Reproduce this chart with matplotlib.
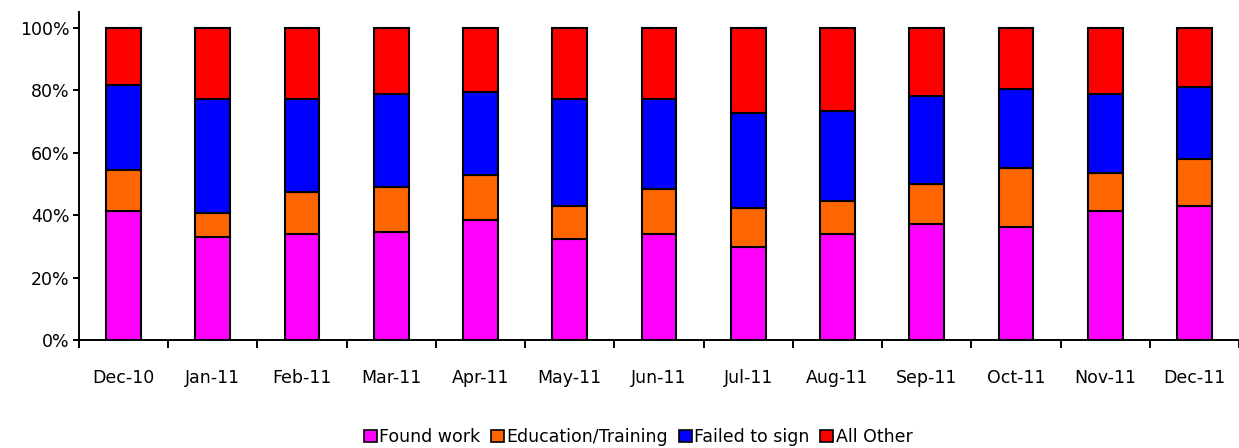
import matplotlib
matplotlib.use("Agg")
import matplotlib.pyplot as plt
import numpy as np
from matplotlib.ticker import FuncFormatter, FixedLocator
from matplotlib.patches import Patch

categories = ["Dec-10", "Jan-11", "Feb-11", "Mar-11", "Apr-11", "May-11", "Jun-11",
              "Jul-11", "Aug-11", "Sep-11", "Oct-11", "Nov-11", "Dec-11"]
found_work = [41.4, 33.1, 33.9, 34.5, 38.5, 32.4, 33.9, 29.9, 33.9, 37.0, 36.1, 41.4, 43.0]
education = [12.9, 7.5, 13.6, 14.4, 14.4, 10.6, 14.4, 12.2, 10.7, 12.9, 18.9, 12.2, 15.1]
failed_sign = [27.4, 36.5, 29.6, 29.7, 26.6, 34.1, 28.8, 30.5, 28.8, 28.1, 25.3, 25.0, 22.9]
all_other = [18.3, 22.9, 22.9, 21.4, 20.5, 22.9, 22.9, 27.4, 26.6, 22.0, 19.7, 21.4, 19.0]

series = [("Found work", found_work, "#FF00FF"),
          ("Education/Training", education, "#FF6600"),
          ("Failed to sign", failed_sign, "#0000FF"),
          ("All Other", all_other, "#FF0000")]

plt.rcParams['font.family'] = ['DejaVu Sans']
fig = plt.figure(figsize=(12.39, 4.48), dpi=100)
ax = fig.add_axes([79/1239, 1 - 340/448, 1160/1239, (340 - 12)/448])

x = np.arange(len(categories))
bottom = np.zeros(len(categories))
for name, vals, col in series:
    v = np.array(vals)
    ax.bar(x, v, 0.39, bottom=bottom, color=col, edgecolor="black", linewidth=1.5, label=name, zorder=3)
    bottom += v

ax.set_xlim(-0.5, len(categories) - 0.5)
ax.set_ylim(0, 105)
ax.set_yticks([0, 20, 40, 60, 80, 100])
ax.yaxis.set_major_formatter(FuncFormatter(lambda v, p: f"{int(v)}%"))
ax.set_xticks(x)
ax.set_xticklabels(categories)
ax.xaxis.set_minor_locator(FixedLocator(np.arange(-0.5, len(categories), 1.0)))
ax.tick_params(axis="x", which="major", length=0, pad=21, labelsize=12.5)
ax.tick_params(axis="x", which="minor", length=6, width=1.4, direction="out")
ax.tick_params(axis="y", length=4, width=1.4, labelsize=12.5, pad=3)
for s in ["top", "right"]:
    ax.spines[s].set_visible(False)
ax.spines["left"].set_linewidth(1.4)
ax.spines["bottom"].set_linewidth(1.4)

handles = [Patch(facecolor=c, edgecolor="black", linewidth=1.2, label=n) for n, _, c in series]
fig.legend(handles=handles, loc="center", bbox_to_anchor=(638/1239, 1 - 437/448), ncol=4,
           frameon=False, fontsize=12.5, handlelength=0.75, handleheight=0.75,
           handletextpad=0.15, columnspacing=0.6)

fig.savefig("out.png", dpi=100)
